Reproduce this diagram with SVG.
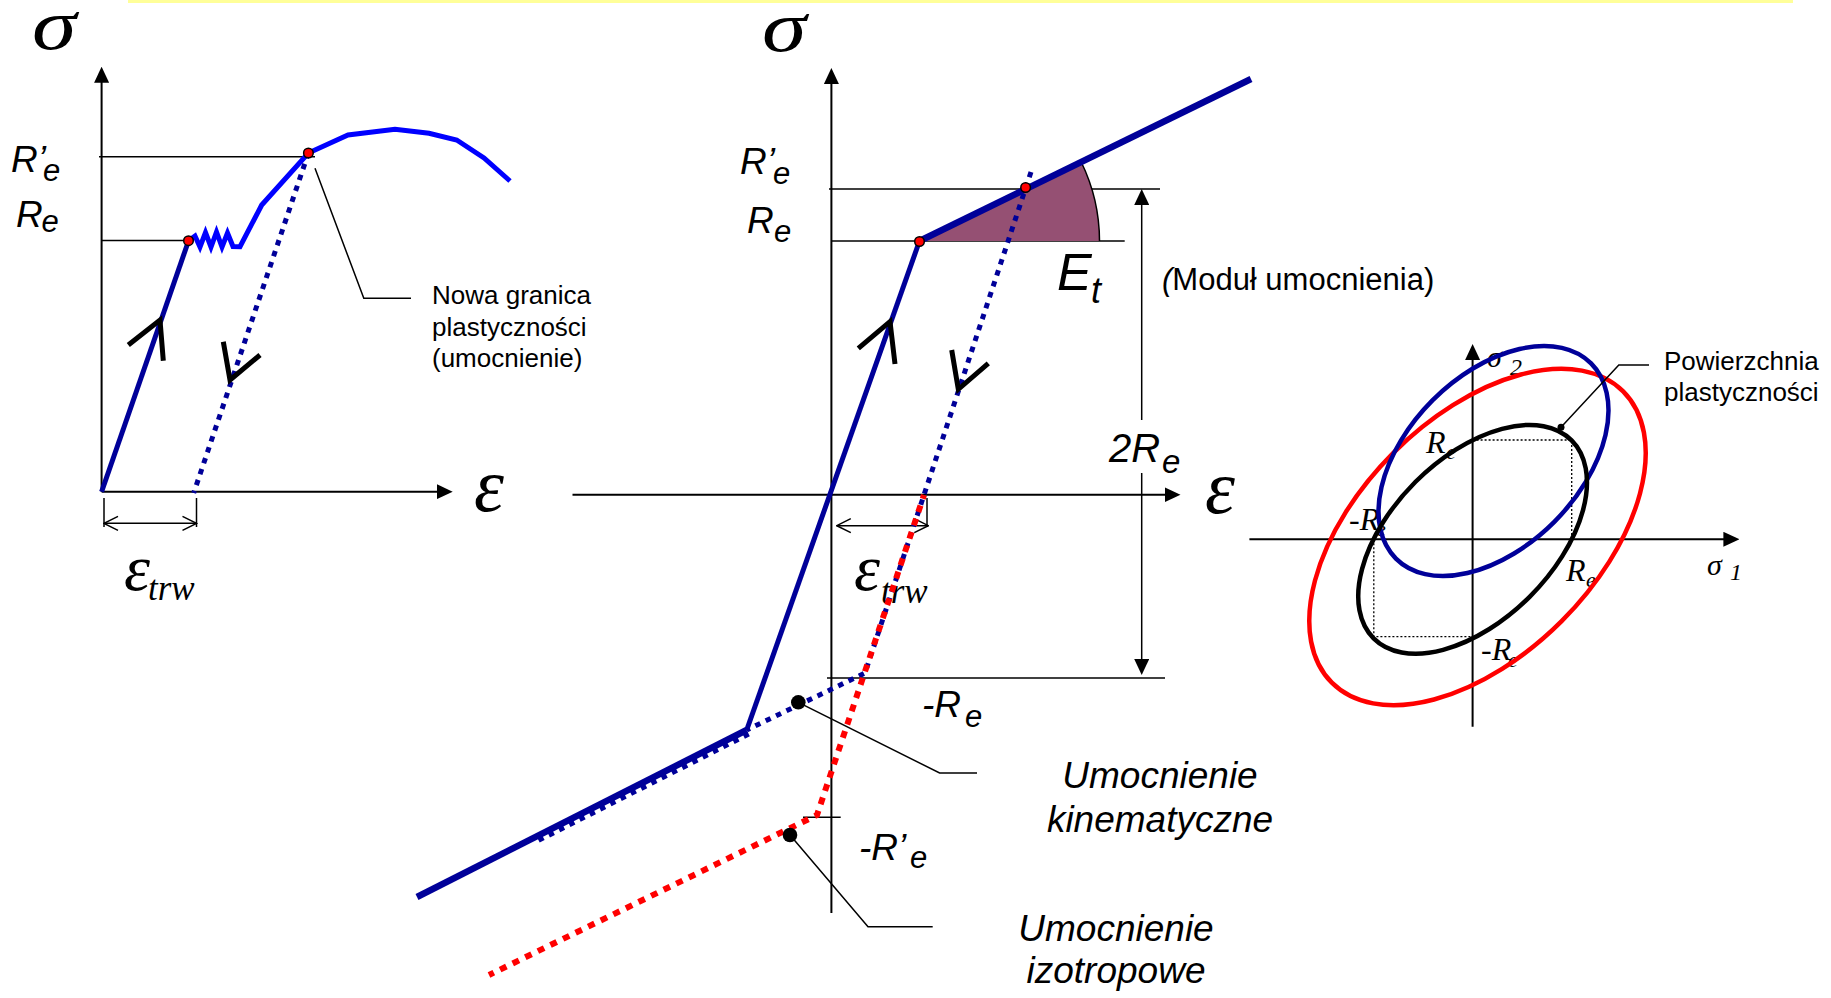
<svg xmlns="http://www.w3.org/2000/svg" width="1831" height="998" viewBox="0 0 1831 998">
<style>
.ax{stroke:#000;stroke-width:2;fill:none}
.thin{stroke:#000;stroke-width:1.5;fill:none}
.navy{stroke:#000099;stroke-width:5;fill:none;stroke-linejoin:round}
.navyT{stroke:#000099;stroke-width:6.5;fill:none}
.blue{stroke:#0000ff;stroke-width:5;fill:none;stroke-linejoin:miter}
.dotN{stroke:#000099;stroke-width:5;fill:none;stroke-dasharray:5.5 6}
.dotR{stroke:#ff0000;stroke-width:6;fill:none;stroke-dasharray:7 7}
.chev{stroke:#000;stroke-width:5;fill:none;stroke-linejoin:miter}
.rdot{fill:#ff0000;stroke:#000;stroke-width:1.5}
.greek{font-family:"Liberation Serif",serif;font-style:italic;fill:#000}
.lab{font-family:"Liberation Sans",Arial,sans-serif;font-style:italic;fill:#000}
.sans{font-family:"Liberation Sans",Arial,sans-serif;fill:#000}
.ell{fill:none;stroke-width:4.5}
</style>
<defs>
<marker id="arr" viewBox="0 0 16 15" refX="2" refY="7.5" markerWidth="16" markerHeight="15" markerUnits="userSpaceOnUse" orient="auto-start-reverse">
<path d="M0,0 L16,7.5 L0,15 z" fill="#000"/>
</marker>
<marker id="open" viewBox="-1 -1 16 16" refX="14" refY="7" markerWidth="16" markerHeight="16" markerUnits="userSpaceOnUse" orient="auto-start-reverse">
<path d="M0,0 L14,7 L0,14" fill="none" stroke="#000" stroke-width="1.5"/>
</marker>
</defs>

<rect x="128" y="0" width="1665" height="3" fill="#ffff99"/>

<!-- LEFT DIAGRAM -->
<g id="left-texts">
<text class="greek" font-size="72" transform="translate(32,49) scale(1.25,1)">σ</text>
<text class="greek" x="474" y="511" font-size="76">ε</text>
<text class="greek" x="124" y="590" font-size="66">ε<tspan x="148" y="600" font-size="35">trw</tspan></text>
<text class="lab" x="11" y="172" font-size="37">R’<tspan x="43" y="181" font-size="31">e</tspan></text>
<text class="lab" x="16" y="227" font-size="37">R<tspan x="41.5" y="231.5" font-size="31">e</tspan></text>
<text class="sans" font-size="26"><tspan x="432" y="304">Nowa granica</tspan><tspan x="432" y="335.5">plastyczności</tspan><tspan x="432" y="367">(umocnienie)</tspan></text>
</g>
<g id="left-axes">
<line class="ax" x1="101.6" y1="491.7" x2="101.6" y2="80.7" marker-end="url(#arr)"/>
<line class="ax" x1="101.6" y1="491.7" x2="438.7" y2="491.7" marker-end="url(#arr)"/>
<line class="thin" x1="99" y1="156.7" x2="315" y2="156.7"/>
<line class="thin" x1="101.6" y1="240.5" x2="188.6" y2="240.5"/>
<line class="thin" x1="104" y1="498" x2="104" y2="527"/>
<line class="thin" x1="196.5" y1="498" x2="196.5" y2="527"/>
<line class="thin" x1="104" y1="523.3" x2="196.5" y2="523.3" marker-start="url(#open)" marker-end="url(#open)"/>
</g>
<g id="left-curves">
<line class="navy" x1="101.6" y1="491.7" x2="188.6" y2="240.7"/>
<path class="blue" d="M188.5,240.7 L195,236 L200,247 L205.5,232.5 L211,247 L216.5,232 L222,247 L227.5,233 L233,246.5 L240,246.7 L261.7,205 L308.4,153 L348,135 L395,129.3 L429,133.3 L456.7,140 L484,158 L510,181"/>
<line class="dotN" x1="308.4" y1="153" x2="193.7" y2="493"/>
<circle class="rdot" cx="188.5" cy="240.7" r="4.8"/>
<circle class="rdot" cx="308.4" cy="153" r="4.8"/>
<polyline class="chev" points="128.3,345 160,320 163.3,360.7"/>
<polyline class="chev" points="223.3,341.7 230,380 260,355"/>
<polyline class="thin" points="315,168.3 363.8,298.3 411,298.3"/>
</g>

<!-- MIDDLE DIAGRAM -->
<g id="mid-texts">
<text class="greek" font-size="72" transform="translate(762,51) scale(1.25,1)">σ</text>
<text class="greek" x="1205" y="513" font-size="76">ε</text>
<text class="greek" x="854" y="590" font-size="66">ε<tspan x="881" y="603" font-size="35">trw</tspan></text>
<text class="lab" x="740" y="174" font-size="37">R’<tspan x="773" y="184" font-size="31">e</tspan></text>
<text class="lab" x="747" y="233" font-size="37">R<tspan x="774" y="242" font-size="31">e</tspan></text>
<text class="lab" x="1057" y="290" font-size="52">E<tspan x="1091" y="303" font-size="36">t</tspan></text>
<text class="sans" x="1162" y="290" font-size="31"><tspan font-style="italic">(</tspan>Moduł umocnienia)</text>
<text class="lab" x="1109" y="462" font-size="40">2R<tspan x="1162" y="473" font-size="33">e</tspan></text>
<text class="lab" x="922" y="717" font-size="37">-R<tspan x="965" y="727" font-size="31">e</tspan></text>
<text class="lab" x="859" y="860" font-size="37">-R’<tspan x="910" y="868" font-size="31">e</tspan></text>
<text class="lab" font-size="37" text-anchor="middle"><tspan x="1160" y="788">Umocnienie</tspan><tspan x="1160" y="832">kinematyczne</tspan></text>
<text class="lab" font-size="37" text-anchor="middle"><tspan x="1116" y="941">Umocnienie</tspan><tspan x="1116" y="983">izotropowe</tspan></text>
</g>
<g id="mid-axes">
<line class="ax" x1="831.4" y1="913" x2="831.4" y2="82" marker-end="url(#arr)"/>
<line class="ax" x1="572.5" y1="494.7" x2="1166.5" y2="494.7" marker-end="url(#arr)"/>
<line class="thin" x1="829" y1="189" x2="1160" y2="189"/>
<line class="thin" x1="831.4" y1="241" x2="1124.7" y2="241"/>
<line class="thin" x1="827" y1="678" x2="1165" y2="678"/>
<line class="thin" x1="803" y1="817.3" x2="840.7" y2="817.3"/>
<path class="thin" d="M1141.7,203 V420" marker-start="url(#arr)"/>
<path class="thin" d="M1141.7,473 V661" marker-end="url(#arr)"/>
<line class="thin" x1="927" y1="498" x2="927" y2="527"/>
<line class="thin" x1="836.8" y1="525.7" x2="928.3" y2="525.7" marker-start="url(#open)" marker-end="url(#open)"/>
</g>
<g id="mid-curves">
<path d="M919.5,241 L1081.2,162 A180,180 0 0 1 1099.5,241 Z" fill="#955073"/>
<path class="thin" d="M1081.2,162 A180,180 0 0 1 1099.5,241"/>
<path class="dotN" d="M1031,172 L865,673 L746.7,730 M748.7,734 L534,842.7"/>
<path class="dotR" d="M924,495 L817,815 L489,975" stroke-dashoffset="3"/>
<path class="navy" d="M919.5,241 L746.7,730"/>
<path class="navyT" d="M746.7,730 L417,897"/>
<line class="navyT" x1="919.5" y1="241" x2="1251" y2="79"/>
<circle class="rdot" cx="919.5" cy="241.5" r="4.8"/>
<circle class="rdot" cx="1025.6" cy="187.5" r="4.8"/>
<polyline class="chev" points="858.3,348.3 890,321.7 895,364"/>
<polyline class="chev" points="951.7,350 958.3,389.3 988.3,363.3"/>
<circle cx="798.3" cy="702.3" r="7.3" fill="#000"/>
<circle cx="790" cy="835" r="7.3" fill="#000"/>
<polyline class="thin" points="798.3,702.3 939.6,773 977,773"/>
<polyline class="thin" points="790,835 868,926.7 932.7,926.7"/>
</g>

<!-- RIGHT DIAGRAM -->
<g id="right-texts">
<text class="greek" x="1487" y="367" font-size="30">σ<tspan x="1510" y="375" font-size="24">2</tspan></text>
<text class="greek" x="1707" y="575" font-size="30">σ<tspan x="1730" y="580" font-size="24">1</tspan></text>
<text class="greek" x="1426" y="453" font-size="32">R<tspan x="1446" y="459" font-size="22">e</tspan></text>
<text class="greek" x="1349" y="530" font-size="32">-R<tspan x="1376" y="536" font-size="22">e</tspan></text>
<text class="greek" x="1566" y="581" font-size="32">R<tspan x="1586" y="587" font-size="22">e</tspan></text>
<text class="greek" x="1481" y="660" font-size="32">-R<tspan x="1508" y="667" font-size="22">e</tspan></text>
<text class="sans" font-size="26"><tspan x="1664" y="370">Powierzchnia</tspan><tspan x="1664" y="401">plastyczności</tspan></text>
</g>
<g id="right-axes">
<line class="ax" x1="1249.4" y1="539.3" x2="1725.4" y2="539.3" marker-end="url(#arr)"/>
<line class="ax" x1="1472.6" y1="726.7" x2="1472.6" y2="358" marker-end="url(#arr)"/>
<path d="M1472.6,440 H1571.7 V539.3 M1373.8,539.3 V636.7 H1472.6" fill="none" stroke="#000" stroke-width="1.3" stroke-dasharray="2 2"/>
</g>
<g id="right-surfaces">
<ellipse class="ell" stroke="#ff0000" cx="1477.5" cy="537" rx="206" ry="119" transform="rotate(-45 1477.5 537)"/>
<ellipse class="ell" stroke="#000099" cx="1493.5" cy="461" rx="138" ry="86" transform="rotate(-45 1493.5 461)"/>
<ellipse class="ell" stroke="#000" cx="1472.6" cy="539.3" rx="140" ry="81" transform="rotate(-45 1472.6 539.3)"/>
<circle cx="1561" cy="427.3" r="3.5" fill="#000"/>
<polyline class="thin" points="1561,427.3 1618.8,365 1649,365"/>
</g>
</svg>
